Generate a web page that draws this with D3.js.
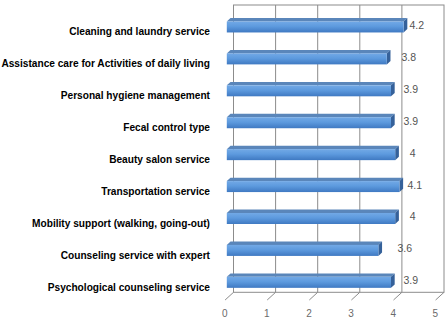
<!DOCTYPE html>
<html>
<head>
<meta charset="utf-8">
<script src="https://cdn.jsdelivr.net/npm/d3@7"></script>
<style>
  html, body { margin: 0; padding: 0; background: #fff; }
  svg { display: block; }
</style>
</head>
<body>
<svg id="chart" width="448" height="324"></svg>
<script>
const categories = [
  "Cleaning and laundry service",
  "Assistance care for Activities of daily living",
  "Personal hygiene management",
  "Fecal control type",
  "Beauty salon service",
  "Transportation service",
  "Mobility support (walking, going-out)",
  "Counseling service with expert",
  "Psychological counseling service"
];
const values = [4.2, 3.8, 3.9, 3.9, 4, 4.1, 4, 3.6, 3.9];
const valueLabels = ["4.2", "3.8", "3.9", "3.9", "4", "4.1", "4", "3.6", "3.9"];
const ticks = [0, 1, 2, 3, 4, 5];

const svg = d3.select("#chart");

// back wall plane
const wallLeft = 233.5, wallRight = 444, wallTop = 5, wallBottom = 292.3;
const depthX = -6.7, depthY = 6;        // floor depth offset (back -> front)
const barDX = 3.7, barDY = -3.4;         // bar 3D thickness
const barH = 11;

const x = d3.scaleLinear().domain([0, 5]).range([wallLeft, wallRight]);
const y = d3.scaleBand().domain(categories).range([wallTop, wallBottom]);
const labelX = d3.scaleLinear().domain([0, 5]).range([332.7, 432.7]);

const defs = svg.append("defs");
const grad = defs.append("linearGradient").attr("id", "barGrad")
  .attr("x1", 0).attr("y1", 0).attr("x2", 0).attr("y2", 1);
grad.append("stop").attr("offset", "0%").attr("stop-color", "#72a9e6");
grad.append("stop").attr("offset", "45%").attr("stop-color", "#5d9ade");
grad.append("stop").attr("offset", "100%").attr("stop-color", "#3f79c2");

// back wall gridlines
const grid = svg.append("g");
grid.selectAll("line.grid").data(ticks.slice(1, -1)).join("line")
  .attr("x1", d => x(d)).attr("x2", d => x(d))
  .attr("y1", wallTop).attr("y2", wallBottom)
  .attr("stroke", "#8c8c8c").attr("stroke-width", 1);
grid.append("rect")
  .attr("x", wallLeft).attr("y", wallTop)
  .attr("width", wallRight - wallLeft).attr("height", wallBottom - wallTop)
  .attr("fill", "none").attr("stroke", "#8c8c8c").attr("stroke-width", 1);

// floor diagonal ticks
grid.selectAll("line.tick").data(ticks).join("line")
  .attr("x1", d => x(d)).attr("y1", wallBottom)
  .attr("x2", d => x(d) - 8.4).attr("y2", wallBottom + 7.7)
  .attr("stroke", "#8c8c8c").attr("stroke-width", 1);

// tick labels
svg.append("g").selectAll("text").data(ticks).join("text")
  .attr("x", d => x(d) - 8.7).attr("y", 313)
  .attr("text-anchor", "middle").attr("dominant-baseline", "central")
  .attr("font-family", "Liberation Sans, Arial, sans-serif")
  .attr("font-size", 10).attr("fill", "#6a6a6a")
  .text(d => d);

// bars
const bars = svg.append("g");
const x0 = x(0) + depthX;
categories.forEach((c, i) => {
  const v = values[i];
  const cy = y(c) + y.bandwidth() / 2 + depthY;
  const top = cy - barH / 2, bot = cy + barH / 2;
  const xe = x(v) + depthX;
  bars.append("path")
    .attr("d", `M${x0},${top} L${x0 + barDX},${top + barDY} L${xe + barDX},${top + barDY} L${xe},${top} Z`)
    .attr("fill", "#5a86ba");
  bars.append("path")
    .attr("d", `M${xe},${top} L${xe + barDX},${top + barDY} L${xe + barDX},${bot + barDY} L${xe},${bot} Z`)
    .attr("fill", "#35619a");
  bars.append("rect")
    .attr("x", x0).attr("y", top)
    .attr("width", xe - x0).attr("height", barH)
    .attr("fill", "url(#barGrad)");
});

// value labels
svg.append("g").selectAll("text").data(values).join("text")
  .attr("x", d => labelX(d))
  .attr("y", (d, i) => y(categories[i]) + y.bandwidth() / 2 + depthY - 2)
  .attr("text-anchor", "middle").attr("dominant-baseline", "central")
  .attr("font-family", "Liberation Sans, Arial, sans-serif")
  .attr("font-size", 10.5).attr("fill", "#555")
  .text((d, i) => valueLabels[i]);

// category labels
const catG = svg.append("g");
const catTexts = catG.selectAll("text").data(categories).join("text")
  .attr("text-anchor", "end").attr("dominant-baseline", "central")
  .attr("font-family", "Liberation Sans, Arial, sans-serif")
  .attr("font-weight", "bold")
  .attr("font-size", 11.5).attr("fill", "#000")
  .text(d => d);
let maxW = 0;
catTexts.each(function () { maxW = Math.max(maxW, this.getComputedTextLength()); });
const k = Math.min(1, 209 / maxW);
catTexts.attr("transform", d => `translate(210,${y(d) + y.bandwidth() / 2 + depthY + 4}) scale(${k},1)`);
</script>
</body>
</html>
